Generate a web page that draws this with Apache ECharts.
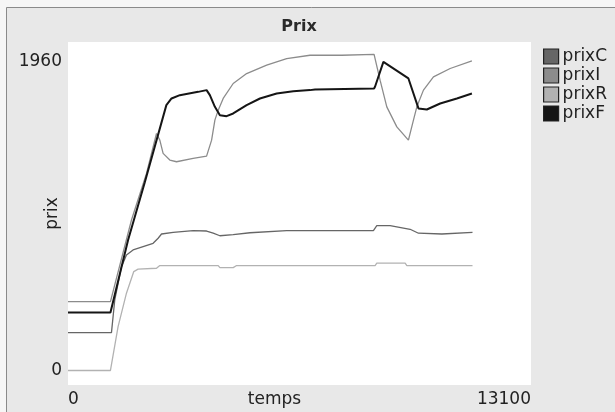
<!DOCTYPE html>
<html>
<head>
<meta charset="utf-8">
<script src="https://cdn.jsdelivr.net/npm/echarts@6/dist/echarts.min.js"></script>
<style>
  html, body { margin: 0; padding: 0; background: #f6f6f6; }
  #chart { width: 615px; height: 412px; }
</style>
</head>
<body>
<div id="chart"></div>
<script>
// series names, in drawing order (black last, on top)
var seriesNames = ["prixC", "prixI", "prixR", "prixF"];
var xTicks = [0, 13100];
var yTicks = [0, 1960];

// [temps, prix]
var prixC = [[0, 240], [1230, 240], [1323, 447], [1513, 658], [1654, 732], [1841, 764],
  [2125, 785], [2408, 806], [2550, 838], [2646, 865], [2975, 876], [3541, 886],
  [3921, 884], [4108, 870], [4298, 854], [4674, 861], [5148, 873], [6187, 886],
  [8641, 886], [8737, 918], [9114, 918], [9680, 895], [9916, 870], [10578, 865],
  [10624, 876], [11445, 876]];

var prixI = [[0, 437], [1201, 437], [1796, 954], [2221, 1249], [2504, 1502], [2598, 1460],
  [2691, 1376], [2881, 1334], [3071, 1323], [3541, 1344], [3921, 1359], [4063, 1460],
  [4156, 1587], [4250, 1650], [4391, 1724], [4674, 1819], [5054, 1882], [5621, 1935],
  [6187, 1977], [6847, 1998], [7745, 1998], [7760, 2004], [8660, 2004], [8689, 1998],
  [8830, 1840], [9020, 1671], [9304, 1544], [9632, 1460], [9774, 1587], [9870, 1671],
  [10057, 1777], [10340, 1861], [10813, 1914], [11428, 1962]];

var prixR = [[0, 0], [1201, 0], [1417, 278], [1654, 490], [1861, 627], [1983, 642],
  [2504, 648], [2598, 665], [4250, 665], [4298, 652], [4674, 652], [4771, 665],
  [8689, 665], [8737, 680], [9539, 680], [9587, 665], [11445, 665]];

var prixF = [[0, 367], [1201, 367], [1700, 827], [2173, 1193], [2783, 1682], [2929, 1724],
  [3164, 1745], [3683, 1766], [3921, 1777], [4014, 1745], [4156, 1671], [4298, 1618],
  [4487, 1612], [4674, 1629], [5054, 1682], [5431, 1724], [5904, 1756], [6374, 1770],
  [6847, 1777], [6989, 1781], [7000, 1787], [8660, 1787], [8689, 1800], [8924, 1956],
  [9632, 1851], [9916, 1661], [10153, 1654], [10530, 1692], [11003, 1724], [11428, 1756]];

var colors = ["#666666", "#8c8c8c", "#b2b2b2", "#151515"];
var font = "DejaVu Sans";

var chart = echarts.init(document.getElementById("chart"));

var option = {
  animation: false,
  backgroundColor: "#f6f6f6",
  color: colors,
  graphic: [
    {
      type: "rect",
      z: -10,
      shape: { x: 6.5, y: 7.5, width: 700, height: 500 },
      style: { fill: "#e8e8e8", stroke: "#8a8a8a", lineWidth: 1 }
    }
  ],
  title: {
    text: "Prix",
    left: 294,
    top: 14,
    textAlign: "center",
    textStyle: { color: "#2a2a2a", fontFamily: font, fontSize: 16, fontWeight: "bold" }
  },
  legend: {
    data: seriesNames,
    orient: "vertical",
    left: 538,
    top: 43,
    icon: "rect",
    itemWidth: 15,
    itemHeight: 15,
    itemGap: 2,
    itemStyle: { borderColor: "#222", borderWidth: 1.2 },
    textStyle: { color: "#222", fontFamily: font, fontSize: 17, padding: [0, 0, 0, -1] }
  },
  grid: {
    show: true,
    left: 68,
    top: 42,
    right: 84,
    bottom: 27,
    outerBoundsMode: "none",
    containLabel: false,
    backgroundColor: "#ffffff",
    borderWidth: 0
  },
  xAxis: {
    type: "value",
    min: 0,
    max: 13100,
    name: "temps",
    nameLocation: "middle",
    nameGap: 6,
    nameMoveOverlap: false,
    nameTextStyle: {
      color: "#222",
      fontFamily: font,
      fontSize: 17,
      verticalAlign: "top",
      padding: [0, 50, 0, 0]
    },
    axisLine: { show: false },
    axisTick: { show: false },
    splitLine: { show: false },
    axisLabel: {
      customValues: xTicks,
      alignMinLabel: "left",
      alignMaxLabel: "right",
      margin: 6,
      color: "#222",
      fontFamily: font,
      fontSize: 17,
      formatter: function (v) { return String(v); }
    }
  },
  yAxis: {
    type: "value",
    min: -92,
    max: 2082,
    name: "prix",
    nameLocation: "middle",
    nameGap: 7,
    nameMoveOverlap: false,
    nameTextStyle: { color: "#222", fontFamily: font, fontSize: 17 },
    axisLine: { show: false },
    axisTick: { show: false },
    splitLine: { show: false },
    axisLabel: {
      customValues: yTicks,
      margin: 6,
      color: "#222",
      fontFamily: font,
      fontSize: 17,
      formatter: function (v) { return String(v); }
    }
  },
  series: [
    { name: "prixC", type: "line", data: prixC, showSymbol: false, lineStyle: { width: 1.3 } },
    { name: "prixI", type: "line", data: prixI, showSymbol: false, lineStyle: { width: 1.3 } },
    { name: "prixR", type: "line", data: prixR, showSymbol: false, lineStyle: { width: 1.3 } },
    { name: "prixF", type: "line", data: prixF, showSymbol: false, lineStyle: { width: 2 } }
  ]
};

chart.setOption(option);
</script>
</body>
</html>
